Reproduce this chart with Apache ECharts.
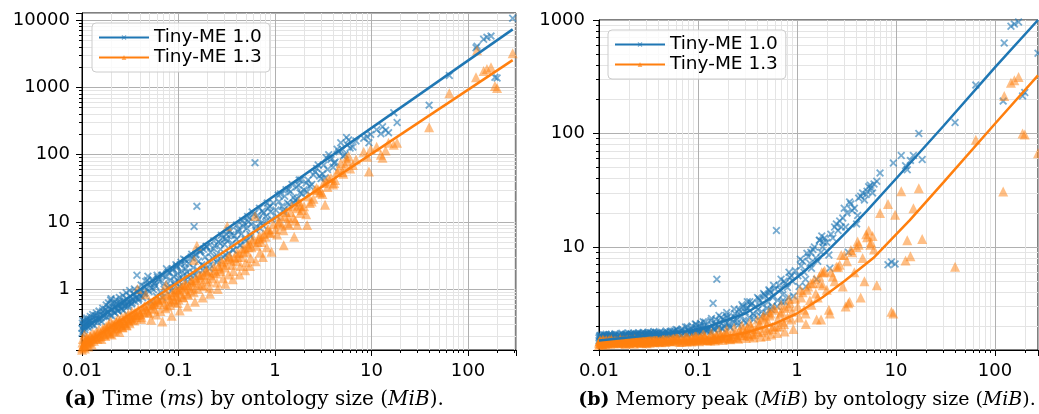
<!DOCTYPE html>
<html>
<head>
    <meta charset="utf-8">
    <title>Tiny-ME time and memory</title>
    <script src="https://cdn.jsdelivr.net/npm/echarts@6/dist/echarts.min.js"></script>
    <style type="text/css">
        body{ margin:0; background:#fff; }
        #main{ width:1039px; height:414px; }
    </style>
</head>
<body>
<div id="main"></div>
<script type="text/javascript">
    // ontology size (MiB), one entry per ontology
    var sizes = [
        0.0100, 0.0101, 0.0103, 0.0104, 0.0106, 0.0108, 0.0109, 0.0111, 0.0113, 0.0115, 0.0117, 0.0119, 0.0121, 0.0124, 0.0127, 0.0130, 0.0134, 0.0138, 0.0142, 0.0147,
        0.0151, 0.0155, 0.0159, 0.0163, 0.0167, 0.0171, 0.0175, 0.0180, 0.0185, 0.0190, 0.0195, 0.0200, 0.0205, 0.0210, 0.0216, 0.0222, 0.0228, 0.0234, 0.0240, 0.0247,
        0.0254, 0.0261, 0.0268, 0.0275, 0.0283, 0.0291, 0.0299, 0.0307, 0.0316, 0.0325, 0.0334, 0.0344, 0.0354, 0.0364, 0.0371, 0.0378, 0.0387, 0.0396,
        0.0405, 0.0415, 0.0425, 0.0436, 0.0447, 0.0458, 0.0470, 0.0482, 0.0495, 0.0508, 0.0522, 0.0536, 0.0550, 0.0565, 0.0580, 0.0605, 0.0630, 0.0670,
        0.071, 0.074, 0.077, 0.080, 0.083, 0.086, 0.089, 0.092, 0.095, 0.098, 0.101, 0.104, 0.108, 0.112, 0.116, 0.119,
        0.123, 0.128, 0.133, 0.139, 0.142, 0.145, 0.150, 0.155, 0.161, 0.167, 0.174, 0.181, 0.189, 0.197,
        0.205, 0.215, 0.225, 0.236, 0.248, 0.260, 0.272, 0.285, 0.300, 0.315, 0.320, 0.340,
        0.36, 0.38, 0.40, 0.42, 0.45, 0.48, 0.51, 0.54, 0.57, 0.60,
        0.62, 0.64, 0.68, 0.72, 0.76, 0.80, 0.85, 0.90, 0.96,
        1.02, 1.10, 1.18, 1.26, 1.35, 1.45, 1.55, 1.68, 1.82,
        2.0, 2.2, 2.4, 2.6, 2.9, 3.2, 3.5, 3.8, 4.2, 4.6, 5.1, 5.6,
        1.70, 1.75, 1.90, 2.10, 2.50, 3.00, 3.40, 4.00, 4.40, 5.30, 5.80, 6.00,
        6.4, 6.9, 8.3, 9.0, 9.4, 9.8, 11.3, 12.5, 13.0, 14.0, 15.0, 17.0, 18.4,
        39.5, 64,
        121, 124, 145, 157, 173, 190, 200, 272, 290,
        0.0100, 0.0102, 0.0105, 0.0107, 0.0110, 0.0112, 0.0116, 0.0118, 0.0122, 0.0126, 0.0129, 0.0133, 0.0137, 0.0141, 0.0145, 0.0150, 0.0157, 0.0164, 0.0170, 0.0178, 0.0183, 0.0188, 0.0193, 0.0198,
        0.0203, 0.0213, 0.0219, 0.0225, 0.0231, 0.0237, 0.0244, 0.0251, 0.0258, 0.0265, 0.0272, 0.0279, 0.0287, 0.0295, 0.0303, 0.0312, 0.0321, 0.0330, 0.0349, 0.0359, 0.0383, 0.0410, 0.0441, 0.0476,
        0.052, 0.056, 0.059, 0.062, 0.065, 0.069, 0.073, 0.078, 0.082, 0.087, 0.091, 0.096, 0.100, 0.106, 0.111, 0.118, 0.126, 0.135, 0.144, 0.152, 0.159, 0.171, 0.184, 0.193,
        0.21, 0.23, 0.25, 0.27, 0.29, 0.31, 0.33, 0.35, 0.37, 0.41, 0.44, 0.47, 0.50, 0.53, 0.56, 0.66, 0.70, 0.74, 0.82, 0.88,
        1.05, 1.14, 1.22, 1.30, 1.40, 1.50, 1.62, 1.78, 2.3, 2.7, 3.1, 3.6, 4.1, 4.8, 5.0, 5.5,
        0.060, 0.068, 0.075, 0.085, 0.094, 0.103, 0.113, 0.124, 0.137, 0.148, 0.163, 0.178, 0.195, 0.212, 0.232, 0.255, 0.278, 0.305, 0.333, 0.365,
        0.40, 0.43, 0.46, 0.49, 0.52, 0.55, 0.58, 0.63, 0.69, 0.75, 0.83, 0.92, 1.08, 1.23, 1.38, 1.58, 1.85, 2.15, 2.8, 3.3
    ];
    // time (ms)
    var time10 = [
        0.26, 0.31, 0.24, 0.29, 0.33, 0.27, 0.30, 0.35, 0.28, 0.32, 0.30, 0.36, 0.29, 0.34, 0.31, 0.38, 0.33, 0.36, 0.40, 0.35,
        0.36, 0.42, 0.33, 0.47, 0.39, 0.44, 0.50, 0.38, 0.46, 0.55, 0.41, 0.72, 0.49, 0.58, 0.45, 0.53, 0.62, 0.48, 0.57, 0.66,
        0.52, 0.60, 0.48, 0.66, 0.57, 0.72, 0.55, 0.63, 0.78, 0.60, 0.70, 0.85, 0.66, 0.75, 1.60, 0.90, 0.72, 0.82,
        0.80, 0.95, 0.74, 1.10, 0.88, 1.30, 1.00, 1.55, 0.92, 1.20, 1.05, 1.40, 0.98, 1.25, 1.12, 1.50, 1.30, 1.60,
        1.20, 1.50, 1.05, 1.75, 1.35, 1.90, 1.55, 1.25, 2.10, 1.70, 1.45, 2.30, 1.85, 1.60, 2.40, 2.00,
        1.80, 2.40, 1.60, 2.90, 2.10, 8.50, 3.20, 17.0, 2.60, 3.60, 2.30, 3.90, 3.00, 4.20,
        2.6, 3.5, 2.9, 4.4, 3.2, 5.0, 3.9, 5.8, 4.6, 6.5, 5.2, 7.2,
        4.8, 6.2, 5.5, 7.8, 6.6, 9.5, 8.0, 11.5, 9.2, 13.0,
        76, 8.5, 11, 9.5, 13.5, 12, 16, 14, 19,
        15, 20, 17, 24, 19, 28, 23, 33, 27,
        30, 42, 36, 55, 48, 70, 60, 85, 78, 110, 95, 140,
        22, 35, 26, 38, 50, 44, 90, 65, 120, 100, 165, 125,
        130, 160, 175, 185, 150, 200, 235, 205, 260, 230, 212, 420, 300,
        545, 1500,
        3900, 4100, 5200, 5600, 5800, 1420, 1380, null, 10700,
        0.22, 0.34, 0.28, 0.25, 0.32, 0.37, 0.27, 0.33, 0.39, 0.30, 0.42, 0.29, 0.40, 0.44, 0.32, 0.47, 0.37, 0.52, 0.40, 0.58, 0.43, 0.62, 0.50, 0.68,
        0.40, 0.62, 0.44, 0.70, 0.52, 0.47, 0.75, 0.58, 0.50, 0.80, 0.62, 0.55, 0.88, 0.64, 0.58, 0.95, 0.68, 0.62, 1.0, 0.74, 0.68, 1.15, 0.85, 1.35,
        0.65, 1.2, 0.78, 1.4, 0.9, 1.6, 0.95, 1.8, 1.1, 2.0, 1.15, 2.2, 1.3, 2.5, 1.4, 2.7, 1.5, 3.0, 1.7, 3.3, 1.9, 3.7, 2.2, 4.3,
        2.0, 4.0, 2.5, 4.8, 3.0, 5.6, 3.4, 6.4, 3.8, 7.2, 4.5, 8.5, 5.2, 10, 6.0, 12.5, 8.0, 14.5, 10.5, 17,
        12, 26, 14, 30, 18, 36, 21, 42, 34, 62, 52, 100, 75, 150, 120, 180,
        1.6, 0.75, 2.0, 0.95, 2.3, 1.1, 2.8, 1.3, 3.3, 1.6, 3.8, 1.9, 4.3, 2.3, 5.2, 2.7, 6.3, 3.2, 7.5, 3.8,
        9.0, 4.5, 10.5, 5.5, 12, 6.5, 14, 7.5, 16, 8.8, 19, 11, 25, 15, 30, 19, 42, 28, 70, 45
    ];
    var time13 = [
        0.135, 0.16, 0.14, 0.15, 0.21, 0.145, 0.17, 0.16, 0.19, 0.155, 0.175, 0.165, 0.20, 0.17, 0.185, 0.18, 0.21, 0.19, 0.20, 0.22,
        0.19, 0.22, 0.18, 0.24, 0.21, 0.26, 0.20, 0.25, 0.23, 0.28, 0.22, 0.27, 0.30, 0.24, 0.29, 0.26, 0.32, 0.28, 0.31, 0.34,
        0.30, 0.27, 0.34, 0.31, 0.37, 0.29, 0.40, 0.33, 0.36, 0.42, 0.35, 0.39, 0.45, 0.38, 0.41, 1.00, 0.47, 0.43,
        0.42, 0.38, 0.50, 0.45, 0.55, 0.84, 0.48, 0.58, 0.44, 0.62, 0.52, 0.57, 0.66, 0.50, 0.60, 0.70, 0.64, 0.72,
        0.60, 1.15, 0.55, 0.72, 0.66, 0.80, 0.70, 0.90, 0.78, 0.62, 0.95, 0.85, 1.05, 0.75, 1.00, 1.15,
        0.85, 1.10, 0.95, 1.25, 1.05, 2.70, 1.35, 4.40, 1.20, 1.50, 1.15, 1.65, 1.40, 1.80,
        1.30, 1.60, 1.45, 1.90, 1.70, 2.20, 1.85, 2.50, 2.10, 2.80, 8.60, 3.10,
        2.3, 2.9, 2.6, 3.4, 3.0, 4.0, 3.6, 4.8, 4.2, 5.6,
        12.2, 4.4, 5.6, 5.0, 6.6, 6.0, 7.8, 7.0, 9.2,
        7.8, 10, 8.8, 12, 9.5, 14, 11.5, 16, 13.5,
        17, 24, 20, 30, 27, 38, 33, 45, 42, 60, 52, 80,
        9, 18, 15, 13, 22, 28, 40, 36, 55, 70, 95, 62,
        70, 85, 110, 93, 56, 120, 131, 100, 90, 115, 150, 140, 150,
        255, 820,
        1420, 3580, 1750, 1880, 2000, 1050, 980, null, 3230,
        0.125, 0.18, 0.15, 0.13, 0.17, 0.19, 0.14, 0.16, 0.20, 0.15, 0.22, 0.17, 0.19, 0.23, 0.18, 0.25, 0.20, 0.26, 0.21, 0.28, 0.24, 0.30, 0.22, 0.33,
        0.21, 0.30, 0.24, 0.33, 0.26, 0.36, 0.23, 0.29, 0.38, 0.27, 0.32, 0.40, 0.29, 0.35, 0.43, 0.31, 0.37, 0.46, 0.34, 0.41, 0.50, 0.36, 0.55, 0.46,
        0.35, 0.60, 0.42, 0.68, 0.47, 0.74, 0.52, 0.82, 0.58, 0.90, 0.64, 0.98, 0.70, 1.08, 0.76, 1.20, 0.82, 1.30, 0.90, 1.45, 1.00, 1.60, 1.10, 1.85,
        1.05, 1.75, 1.25, 2.0, 1.45, 2.3, 1.65, 2.65, 1.85, 3.0, 2.2, 3.5, 2.5, 4.2, 2.9, 5.0, 3.5, 5.8, 4.2, 6.8,
        6.5, 12, 7.5, 14, 9, 17, 10.5, 20, 19, 32, 26, 44, 38, 75, 55, 90,
        0.72, 0.33, 0.85, 0.40, 1.0, 0.48, 1.15, 0.55, 1.35, 0.65, 1.6, 0.75, 1.9, 0.85, 2.2, 1.0, 2.6, 1.2, 3.0, 1.4,
        3.5, 1.65, 4.0, 1.9, 4.6, 2.2, 5.3, 2.6, 6.2, 3.0, 7.5, 3.6, 9.5, 4.5, 11.5, 6.0, 17, 9.0, 30, 18
    ];
    // memory peak (MiB)
    var mem10 = [
        1.58, 1.62, 1.55, 1.66, 1.60, 1.52, 1.64, 1.59, 1.68, 1.61, 1.57, 1.65, 1.63, 1.60, 1.70, 1.62, 1.66, 1.58, 1.64, 1.68,
        1.60, 1.64, 1.57, 1.67, 1.62, 1.69, 1.59, 1.65, 1.71, 1.63, 1.60, 1.68, 1.66, 1.72, 1.61, 1.69, 1.64, 1.70, 1.67, 1.73,
        1.63, 1.68, 1.60, 1.72, 1.66, 1.70, 1.64, 1.74, 1.69, 1.62, 1.76, 1.67, 1.71, 1.65, 1.73, 1.78, 1.68, 1.75,
        1.66, 1.70, 1.64, 1.74, 1.68, 1.72, 1.78, 1.67, 1.75, 1.71, 1.80, 1.69, 1.77, 1.73, 1.82, 1.70, 1.79, 1.84,
        1.72, 1.78, 1.70, 1.84, 1.76, 1.90, 1.74, 1.82, 1.95, 1.80, 1.88, 2.00, 1.79, 1.92, 2.05, 1.86,
        1.85, 1.95, 1.80, 2.05, 3.20, 1.90, 2.10, 5.20, 2.00, 2.20, 1.92, 2.30, 2.10, 2.40,
        2.10, 2.35, 2.20, 2.60, 2.30, 2.80, 2.50, 3.00, 2.70, 3.30, 2.90, 3.10,
        2.6, 3.0, 2.8, 3.4, 3.1, 3.7, 3.3, 4.0, 3.6, 4.3,
        14, 3.4, 4.2, 3.8, 4.8, 4.4, 5.4, 5.0, 6.2,
        5.6, 6.8, 6.0, 8.8, 7.2, 9.5, 8.0, 11.5, 10,
        11, 13, 15, 14, 18, 20, 24, 22, 27, 30, 31, 33,
        11.5, 9, 12, 8.5, 16, 22, 25, 16, 28, 34, 30, 36,
        38, 45, 7.0, 7.4, 55, 7.1, 64, 52, 48, 58, 64, 100, 59,
        125, 267,
        193, 628, 880, 920, 960, 214, 230, 510, null,
        1.50, 1.66, 1.61, 1.54, 1.69, 1.57, 1.63, 1.71, 1.56, 1.67, 1.62, 1.70, 1.59, 1.65, 1.72, 1.60, 1.68, 1.63, 1.74, 1.66, 1.62, 1.70, 1.65, 1.75,
        1.62, 1.70, 1.66, 1.74, 1.60, 1.71, 1.67, 1.76, 1.64, 1.72, 1.69, 1.77, 1.65, 1.73, 1.70, 1.78, 1.68, 1.75, 1.72, 1.80, 1.70, 1.77, 1.74, 1.82,
        1.68, 1.80, 1.72, 1.86, 1.70, 1.90, 1.76, 1.98, 1.78, 2.02, 1.80, 2.08, 1.82, 2.12, 1.85, 2.18, 1.88, 2.25, 1.90, 2.30, 1.95, 2.40, 2.00, 2.50,
        2.0, 2.45, 2.15, 2.7, 2.25, 2.9, 2.4, 3.2, 2.5, 3.5, 2.7, 3.8, 2.9, 4.1, 3.0, 4.6, 3.3, 5.0, 3.6, 5.6,
        4.5, 7.5, 5.2, 8.2, 6.5, 10, 7.5, 12.5, 12, 17, 15, 21, 19, 26, 29, 35,
        1.88, 1.68, 1.98, 1.72, 2.1, 1.75, 2.2, 1.8, 2.35, 1.85, 2.5, 1.9, 2.65, 1.95, 2.85, 2.05, 3.1, 2.15, 3.3, 2.3,
        3.6, 2.45, 3.9, 2.6, 4.2, 2.8, 4.6, 3.0, 5.2, 3.3, 6.0, 3.7, 7.8, 4.5, 9.0, 5.2, 11, 6.5, 15, 9
    ];
    var mem13 = [
        1.44, 1.48, 1.41, 1.50, 1.46, 1.39, 1.52, 1.45, 1.49, 1.43, 1.47, 1.51, 1.42, 1.48, 1.53, 1.45, 1.50, 1.44, 1.49, 1.46,
        1.45, 1.49, 1.42, 1.50, 1.47, 1.44, 1.52, 1.46, 1.40, 1.51, 1.48, 1.43, 1.53, 1.47, 1.50, 1.45, 1.54, 1.49, 1.46, 1.52,
        1.46, 1.50, 1.43, 1.53, 1.48, 1.45, 1.51, 1.47, 1.55, 1.44, 1.50, 1.48, 1.52, 1.46, 1.54, 1.49, 1.51, 1.47,
        1.47, 1.51, 1.45, 1.53, 1.49, 1.55, 1.46, 1.52, 1.50, 1.56, 1.48, 1.54, 1.51, 1.57, 1.49, 1.53, 1.55, 1.58,
        1.49, 1.53, 1.47, 1.55, 1.51, 1.58, 1.50, 1.54, 1.57, 1.52, 1.60, 1.55, 1.58, 1.53, 1.62, 1.56,
        1.52, 1.56, 1.50, 1.58, 1.54, 1.60, 1.55, 1.62, 1.57, 1.64, 1.59, 1.66, 1.61, 1.68,
        1.55, 1.65, 1.60, 1.72, 1.58, 1.80, 1.68, 1.90, 1.75, 1.95, 1.70, 2.00,
        1.70, 1.90, 1.80, 2.10, 2.40, 1.95, 2.20, 2.60, 2.00, 2.80,
        2.0, 2.3, 2.6, 2.2, 2.9, 2.4, 3.2, 2.7, 3.5,
        3.0, 3.6, 2.8, 4.2, 3.4, 4.8, 3.9, 5.5, 4.6,
        4.2, 6.0, 5.0, 6.7, 4.5, 7.5, 9.4, 6.0, 10.5, 8.0, 12.2, 11.0,
        4.8, 2.3, 6.2, 2.8, 6.7, 8.5, 3.3, 10, 3.6, 14, 12.5, 9.5,
        4.6, 20, 24, 2.7, 2.6, 19.3, 31, 7.6, 11.5, 8.3, 22, 33, 11.8,
        6.7, 88,
        30.8, 214, 280, 295, 314, 100, 98, 67, null,
        1.37, 1.50, 1.43, 1.40, 1.53, 1.47, 1.38, 1.51, 1.44, 1.49, 1.41, 1.54, 1.46, 1.42, 1.50, 1.48, 1.44, 1.55, 1.47, 1.43, 1.51, 1.46, 1.53, 1.49,
        1.43, 1.51, 1.47, 1.41, 1.54, 1.49, 1.45, 1.52, 1.48, 1.44, 1.55, 1.50, 1.46, 1.53, 1.42, 1.51, 1.48, 1.56, 1.45, 1.52, 1.50, 1.47, 1.55, 1.51,
        1.48, 1.56, 1.50, 1.59, 1.46, 1.55, 1.52, 1.60, 1.49, 1.58, 1.53, 1.62, 1.50, 1.60, 1.55, 1.64, 1.52, 1.66, 1.56, 1.68, 1.54, 1.70, 1.58, 1.74,
        1.58, 1.70, 1.62, 1.78, 1.66, 1.85, 1.64, 1.92, 1.72, 2.05, 1.78, 2.3, 1.85, 2.5, 1.9, 2.0, 2.7, 2.1, 3.0, 2.3,
        2.4, 4.0, 2.6, 4.5, 3.1, 5.2, 3.6, 6.0, 5.5, 7.0, 3.0, 9.0, 11.2, 5.0, 13, 10.5,
        1.62, 1.46, 1.65, 1.47, 1.68, 1.48, 1.72, 1.50, 1.76, 1.50, 1.82, 1.52, 1.88, 1.54, 1.95, 1.56, 2.05, 1.58, 2.15, 1.60,
        2.3, 1.62, 2.5, 1.65, 2.7, 1.7, 2.9, 1.75, 3.1, 1.8, 3.5, 1.9, 4.2, 2.1, 4.8, 2.3, 6.0, 2.6, 8.5, 3.2
    ];
    // fitted curves: [size, value]
    var fitTime10 = [[0.0102, 0.25], [290, 7300]];
    var fitTime13 = [[0.0102, 0.145], [290, 2550]];
    var fitMem10 = [[0.01, 1.5], [0.1, 1.85], [0.3, 2.6], [0.5, 3.4], [1, 5.4], [2, 9.1], [3, 13], [5, 20.5], [10, 40], [30, 116], [100, 382], [272, 1000]];
    var fitMem13 = [[0.01, 1.42], [0.1, 1.5], [0.3, 1.75], [0.58, 2.1], [1, 2.6], [1.8, 3.6], [3, 5.0], [5.9, 8.0], [13.8, 17.3], [30, 37], [100, 122], [272, 325]];

    var BLUE = '#1f77b4', ORANGE = '#ff7f0e';
    var CROSS = 'path://M0,1.6L1.6,0L5,3.4L8.4,0L10,1.6L6.6,5L10,8.4L8.4,10L5,6.6L1.6,10L0,8.4L3.4,5Z';

    var pairs = function (xs, ys) {
        var res = [];
        for (var i = 0; i < xs.length; i++) {
            if (ys[i] != null) res.push([xs[i], ys[i]]);
        }
        return res;
    };

    var fmt = function (v) { return String(+Number(v).toPrecision(4)); };

    var makeX = function (idx, max) {
        return {
            type: 'log', gridIndex: idx, logBase: 10, min: 0.01, max: max,
            axisLine: { show: true, lineStyle: { color: '#000', width: 1 } },
            axisTick: { show: true, length: 6, lineStyle: { color: '#000' } },
            minorTick: { show: true, splitNumber: 9, length: 3, lineStyle: { color: '#000' } },
            axisLabel: { color: '#000', fontSize: 18, fontFamily: 'DejaVu Sans', margin: 12,
                         showMaxLabel: false, formatter: fmt },
            splitLine: { show: true, lineStyle: { color: '#b0b0b0', width: 1 } },
            minorSplitLine: { show: true, lineStyle: { color: '#e4e4e4', width: 1 } }
        };
    };
    var makeY = function (idx, min, max, margin, showMax) {
        return {
            type: 'log', gridIndex: idx, logBase: 10, min: min, max: max,
            axisLine: { show: true, lineStyle: { color: '#000', width: 1 } },
            axisTick: { show: true, length: 6, lineStyle: { color: '#000' } },
            minorTick: { show: true, splitNumber: 9, length: 3, lineStyle: { color: '#000' } },
            axisLabel: { color: '#000', fontSize: 18, fontFamily: 'DejaVu Sans', margin: margin,
                         showMinLabel: false, showMaxLabel: showMax, formatter: fmt },
            splitLine: { show: true, lineStyle: { color: '#b0b0b0', width: 1 } },
            minorSplitLine: { show: true, lineStyle: { color: '#e4e4e4', width: 1 } }
        };
    };

    var fitLine = function (name, idx, data, color, symbol) {
        return {
            name: name, type: 'line', xAxisIndex: idx, yAxisIndex: idx,
            data: data, showSymbol: false, symbol: symbol, symbolSize: 6,
            lineStyle: { color: color, width: 2.5 }, itemStyle: { color: color, opacity: 0.6 },
            z: 4, silent: true
        };
    };
    var dots = function (name, idx, data, color, symbol, size, alpha) {
        return {
            name: name, type: 'scatter', xAxisIndex: idx, yAxisIndex: idx,
            data: data, symbol: symbol, symbolSize: size,
            itemStyle: { color: color, opacity: alpha }, z: 2
        };
    };

    var legendBox = function (left, top) {
        return {
            left: left, top: top, orient: 'vertical',
            data: ['Tiny-ME 1.0', 'Tiny-ME 1.3'],
            itemWidth: 50, itemHeight: 6, itemGap: 1,
            padding: [5, 8, 5, 6],
            backgroundColor: 'rgba(255,255,255,0.8)',
            borderColor: '#cccccc', borderWidth: 1, borderRadius: 4,
            selectedMode: false,
            textStyle: { fontSize: 18.5, fontFamily: 'DejaVu Sans', color: '#000' }
        };
    };

    var capStyle = function (text, size) {
        return {
            text: text, fill: '#000', fontSize: size, fontFamily: 'DejaVu Serif',
            textAlign: 'center', textVerticalAlign: 'middle',
            rich: {
                b: { fontWeight: 'bold', fontSize: size, fontFamily: 'DejaVu Serif', fill: '#000' },
                i: { fontStyle: 'italic', fontSize: size, fontFamily: 'DejaVu Serif', fill: '#000' }
            }
        };
    };

    var myChart = echarts.init(document.getElementById('main'), null, { renderer: 'canvas' });
    var option = {
        backgroundColor: '#fff',
        animation: false,
        grid: [
            { left: 82, top: 13, width: 434, height: 337, show: true, borderColor: '#000', borderWidth: 1, backgroundColor: 'transparent' },
            { left: 599, top: 20, width: 439, height: 330, show: true, borderColor: '#000', borderWidth: 1, backgroundColor: 'transparent' }
        ],
        xAxis: [makeX(0, 314), makeX(1, 272)],
        yAxis: [makeY(0, 0.124, 12800, 12, false), makeY(1, 1.24, 1000, 14, true)],
        legend: [legendBox(92, 23), legendBox(608, 30)],
        series: [
            fitLine('Tiny-ME 1.0', 0, fitTime10, BLUE, CROSS),
            fitLine('Tiny-ME 1.3', 0, fitTime13, ORANGE, 'triangle'),
            dots('Tiny-ME 1.0', 0, pairs(sizes, time10), BLUE, CROSS, 8, 0.6),
            dots('Tiny-ME 1.3', 0, pairs(sizes, time13), ORANGE, 'triangle', 10, 0.5),
            fitLine('Tiny-ME 1.0', 1, fitMem10, BLUE, CROSS),
            fitLine('Tiny-ME 1.3', 1, fitMem13, ORANGE, 'triangle'),
            dots('Tiny-ME 1.0', 1, pairs(sizes, mem10), BLUE, CROSS, 8, 0.6),
            dots('Tiny-ME 1.3', 1, pairs(sizes, mem13), ORANGE, 'triangle', 10, 0.5)
        ],
        graphic: [
            { type: 'text', x: 254, y: 400, style: capStyle('{b|(a)} Time ({i|ms}) by ontology size ({i|MiB}).', 20) },
            { type: 'text', x: 807, y: 400, style: capStyle('{b|(b)} Memory peak ({i|MiB}) by ontology size ({i|MiB}).', 19) }
        ]
    };
    myChart.setOption(option);
</script>
</body>
</html>
